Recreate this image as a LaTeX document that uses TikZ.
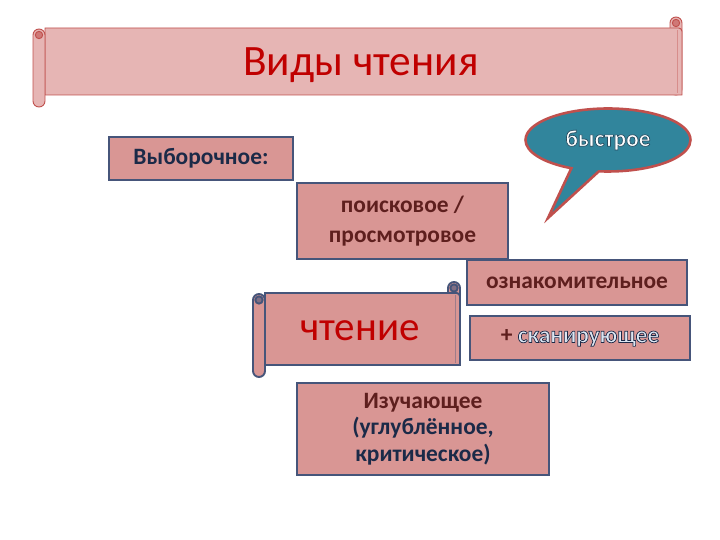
\documentclass[tikz,border=0pt]{standalone}
\usepackage{fontspec}
\setmainfont{Carlito}
\usetikzlibrary{shapes.callouts}

\definecolor{boxfill}{HTML}{D99694}
\definecolor{boxline}{HTML}{46557A}
\definecolor{titlefill}{HTML}{E6B5B4}
\definecolor{titleline}{HTML}{C0504D}
\definecolor{bubblefill}{HTML}{31859C}
\definecolor{redtext}{HTML}{C00000}
\definecolor{maroon}{HTML}{5E1F1E}
\definecolor{navy}{HTML}{1B2A48}
\definecolor{paleblue}{HTML}{DCE6F2}

\tikzset{
  box/.style={draw=boxline, fill=boxfill, line width=1.6pt, inner sep=0pt,
    align=center, font=\bfseries\fontsize{20}{26}\selectfont},
}

% outlined text: stroke colour (r g b), text
\newcommand{\outlined}[2]{\special{pdf:code #1 RG 2 Tr 0.6 w}#2\special{pdf:code 0 Tr}}

% scroll banner: left x, right x, top y, bottom y, fill, line, line width
\newcommand{\drawscroll}[7]{
  \draw[fill=#5, draw=#6, line width=#7, rounded corners=0.18cm] ({#2-12},{#3-11}) rectangle (#2,#4);
  \draw[fill=#5, draw=#6, line width=#7, rounded corners=0.1cm] (#1,#3) -- (#2,#3) [sharp corners] -- (#2,#4) -- (#1,#4) -- cycle;
  \draw[draw=#6!40!#5, line width=0.6pt] ({#2-5},{#3+2}) -- ({#2-5},{#4-2});
  \draw[fill=#5, draw=#6, line width=#7, rounded corners=0.18cm] ({#1-12},{#3+1}) rectangle (#1,{#4+12});
  \draw[fill=#6!60!#5, draw=#6, line width=#7] ({#1-6},{#3+7}) circle (0.11cm);
  \draw[fill=#6!60!#5, draw=#6, line width=#7] ({#2-6},{#3-5}) circle (0.11cm);
}

\begin{document}
\begin{tikzpicture}[x=0.03cm, y=-0.03cm]
  \useasboundingbox (0,0) rectangle (720,540);

  % title scroll
  \drawscroll{45}{682}{28}{95}{titlefill}{titleline}{0.8pt}
  \node[text=redtext, font=\fontsize{37}{42}\selectfont] (title) at (361,65) {Виды чтения};

  % speech bubble
  \node[ellipse callout, callout absolute pointer={(548,218)}, callout pointer arc=20,
    fill=bubblefill, draw=titleline, line width=2.2pt,
    minimum width=165*0.03cm, minimum height=63*0.03cm,
    font=\bfseries\fontsize{20}{24}\selectfont] (bystr) at (608,140)
    {\color{white}\outlined{0.15 0.3 0.38}{быстрое}};

  % boxes
  \node[box, minimum width=184*0.03cm, minimum height=43*0.03cm, text=navy] (vyb) at (201,158.5) {Выборочное:};
  \node[box, minimum width=211*0.03cm, minimum height=76*0.03cm, text=maroon] (poisk) at (402.5,221) {поисковое /\\просмотровое};
  \node[box, minimum width=220*0.03cm, minimum height=45*0.03cm, text=maroon] (oznak) at (577,282.5) {ознакомительное};

  % second scroll
  \drawscroll{265}{460}{293}{365}{boxfill}{boxline}{1.6pt}
  \node[text=redtext, font=\fontsize{35}{40}\selectfont] (chtenie) at (360,331) {чтение};

  \node[box, minimum width=220*0.03cm, minimum height=44*0.03cm] (skan) at (580,338)
    {{\color{maroon}+}~{\color{paleblue}\outlined{0.11 0.16 0.28}{сканирующее}}};
  \node[box, minimum width=252*0.03cm, minimum height=92*0.03cm, font=\bfseries\fontsize{20}{22.5}\selectfont] (izuch) at (423,429)
    {{\color{maroon}Изучающее}\\{\color{navy}(углублённое,}\\{\color{navy}критическое)}};
\end{tikzpicture}
\end{document}
